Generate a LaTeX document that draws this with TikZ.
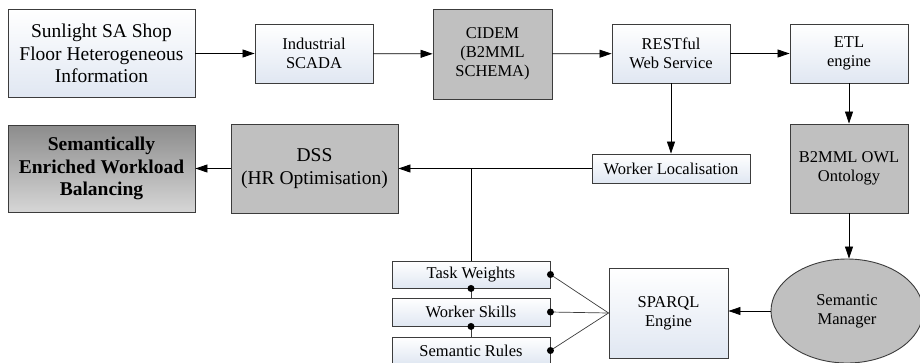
\documentclass[tikz,border=0pt]{standalone}
\usepackage{fontspec}
\setmainfont{Liberation Serif}
\usetikzlibrary{shapes.geometric, arrows.meta, positioning, calc}
\definecolor{edge}{RGB}{60, 60, 60}
\definecolor{paleblue}{RGB}{224, 231, 242}
\definecolor{midgray}{RGB}{192, 192, 192}
\definecolor{darkgray}{RGB}{140, 140, 140}
\definecolor{lightgray}{RGB}{214, 214, 214}

\begin{document}
\begin{tikzpicture}[
    x=1pt, y=-1pt,
    box/.style={
        rectangle, draw=edge, line width=0.9pt, inner sep=0pt,
        align=center, font=\fontsize{16.5}{19}\selectfont
    },
    light/.style={box, top color=white, bottom color=paleblue},
    dark/.style={box, fill=midgray},
    big/.style={font=\fontsize{19.5}{22.5}\selectfont},
    flow/.style={-{Triangle[length=12pt,width=8pt]}, line width=0.8pt, black},
    link/.style={line width=0.7pt, edge},
    dot/.style={circle, fill=black, inner sep=0pt, minimum size=7pt}
]

    \useasboundingbox (0,0) rectangle (920,362);

    % top row
    \node[light, big, minimum width=187, minimum height=88] (src)   at (101.5,53.5) {Sunlight SA Shop\\Floor Heterogeneous\\Information};
    \node[light, minimum width=118, minimum height=59]      (scada) at (314,53.5)   {Industrial\\SCADA};
    \node[dark,  minimum width=119, minimum height=90]      (cidem) at (492.5,54)   {CIDEM\\(B2MML\\SCHEMA)};
    \node[light, minimum width=118, minimum height=59]      (rest)  at (671,53.5)   {RESTful\\Web Service};
    \node[light, minimum width=118, minimum height=59]      (etl)   at (849,53.5)   {ETL\\engine};

    % middle row
    \node[dark, minimum width=118, minimum height=89] (owl) at (849,168.5) {B2MML OWL\\Ontology};
    \node[light, minimum width=158, minimum height=29] (loc) at (671,168.5) {Worker Localisation};
    \node[dark, big, minimum width=167, minimum height=89] (dss) at (314.5,168.5) {DSS\\(HR Optimisation)};
    \node[box, big, top color=darkgray, bottom color=lightgray,
          minimum width=187, minimum height=87] (res) at (101.5,168.5)
          {\bfseries Semantically\\\bfseries Enriched Workload\\\bfseries Balancing};

    % bottom row
    \node[light, minimum width=158, minimum height=27] (tw) at (471,274.5) {Task Weights};
    \node[light, minimum width=158, minimum height=28] (ws) at (471,312)   {Worker Skills};
    \node[light, minimum width=158, minimum height=27] (sr) at (471,350.5) {Semantic Rules};
    \node[light, minimum width=119, minimum height=90] (sparql) at (668.5,313) {SPARQL\\Engine};
    \node[ellipse, draw=edge, line width=0.9pt, fill=midgray, inner sep=0pt,
          minimum width=152, minimum height=104, align=center,
          font=\fontsize{16.5}{19}\selectfont] (sm) at (847,311) {Semantic\\Manager};

    \draw[flow] (src) -- (scada);
    \draw[flow] (scada) -- (cidem);
    \draw[flow] (cidem) -- (rest);
    \draw[flow] (rest) -- (etl);
    \draw[flow] (etl) -- (owl);
    \draw[flow] (rest) -- (loc);
    \draw[flow] (owl.south) -- (owl.south |- sm.north);
    \draw[flow] (sm.west) -- (sm.west -| sparql.east);
    \draw[flow] (loc.west) -- (dss.east);
    \draw[flow] (dss) -- (res);

    \coordinate (join) at (tw.north |- loc.west);
    \draw[line width=0.8pt] (tw.north) -- (join);

    \draw[link] (tw.south) node[dot] {} -- (ws.north);
    \draw[link] (ws.south) node[dot] {} -- (sr.north);
    \draw[link] (tw.east) node[dot] {} -- (sparql.west);
    \draw[link] (ws.east) node[dot] {} -- (sparql.west);
    \draw[link] (sr.east) node[dot] {} -- (sparql.west);
\end{tikzpicture}
\end{document}
